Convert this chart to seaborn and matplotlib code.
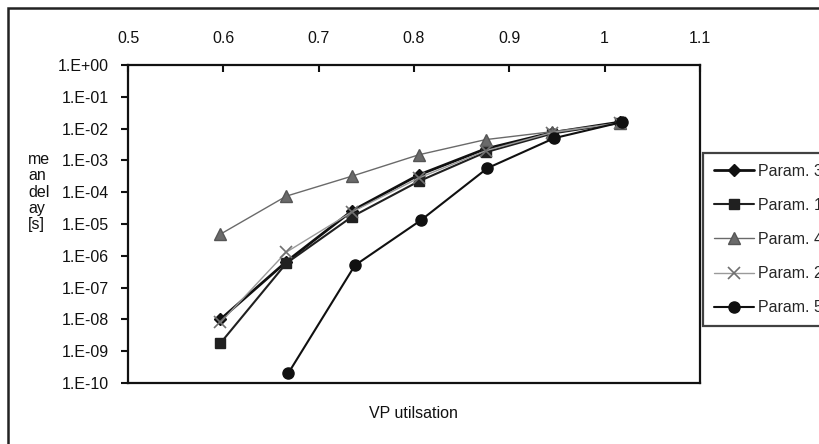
import matplotlib
matplotlib.use("Agg")
import matplotlib.pyplot as plt
import matplotlib.ticker as mticker
from matplotlib.patches import Rectangle
import numpy as np
import pandas as pd
import seaborn as sns

# ---- data ----
x_vals = [0.597, 0.666, 0.735, 0.805, 0.875, 0.945, 1.016]
param3 = [1.0e-8, 6.5e-7, 2.6e-5, 3.5e-4, 2.3e-3, 7.5e-3, 1.6e-2]
param1 = [1.8e-9, 5.8e-7, 1.7e-5, 2.2e-4, 1.8e-3, 7.0e-3, 1.5e-2]
param4 = [4.8e-6, 7.5e-5, 3.2e-4, 1.5e-3, 4.5e-3, 8.0e-3, 1.5e-2]
param2 = [8.0e-9, 1.3e-6, 2.4e-5, 2.8e-4, 2.0e-3, 7.5e-3, 1.5e-2]
x_p5 = [0.668, 0.738, 0.807, 0.877, 0.947, 1.018]
param5 = [2.0e-10, 5.0e-7, 1.3e-5, 5.7e-4, 5.0e-3, 1.6e-2]

series_names = ["Param. 3", "Param. 1", "Param. 4", "Param. 2", "Param. 5"]
y_ticks = [1e-10, 1e-9, 1e-8, 1e-7, 1e-6, 1e-5, 1e-4, 1e-3, 1e-2, 1e-1, 1e0]
x_ticks = [0.5, 0.6, 0.7, 0.8, 0.9, 1.0, 1.1]
x_tick_labels = ["0.5", "0.6", "0.7", "0.8", "0.9", "1", "1.1"]

frames = []
for name, xs, ys in [("Param. 3", x_vals, param3), ("Param. 1", x_vals, param1),
                     ("Param. 4", x_vals, param4), ("Param. 2", x_vals, param2),
                     ("Param. 5", x_p5, param5)]:
    frames.append(pd.DataFrame({"x": xs, "y": ys, "series": name}))
df = pd.concat(frames, ignore_index=True)

styles = {
    "Param. 3": dict(color="#101010", marker="D", lw=2.0, ms=6.5, mec="#101010", mew=1.0),
    "Param. 1": dict(color="#202020", marker="s", lw=1.5, ms=7.5, mec="#202020", mew=1.0),
    "Param. 4": dict(color="#6a6a6a", marker="^", lw=1.0, ms=8, mec="#555555", mew=1.0),
    "Param. 2": dict(color="#9a9a9a", marker="x", lw=1.0, ms=8, mec="#707070", mew=1.2),
    "Param. 5": dict(color="#101010", marker="o", lw=1.5, ms=8, mec="#101010", mew=1.0),
}

FS = 11.5
sns.set_style("white")
plt.rcParams["font.family"] = ["Liberation Sans", "DejaVu Sans"]

fig = plt.figure(figsize=(8.19, 4.44), dpi=100)
fig.patch.set_facecolor("white")
ax = fig.add_axes([128 / 819, 1 - 383 / 444, (700 - 128) / 819, (383 - 65) / 444])

for name in series_names:
    st = styles[name]
    sub = df[df["series"] == name]
    sns.lineplot(data=sub, x="x", y="y", ax=ax, color=st["color"], marker=st["marker"],
                 linewidth=st["lw"], markersize=st["ms"], markeredgecolor=st["mec"],
                 markeredgewidth=st["mew"], label=name, estimator=None, sort=False)

ax.set_yscale("log")
ax.set_ylim(1e-10, 1e0)
ax.set_xlim(0.5, 1.1)
ax.yaxis.set_major_locator(mticker.FixedLocator(y_ticks))
ax.yaxis.set_minor_locator(mticker.NullLocator())
ax.yaxis.set_major_formatter(mticker.FuncFormatter(
    lambda v, p: "1.E%+03d" % int(round(np.log10(v)))))
ax.set_xticks(x_ticks)
ax.set_xticklabels(x_tick_labels)
ax.xaxis.tick_top()
ax.tick_params(axis="x", direction="in", length=5, width=1.5, labelsize=FS, pad=14, colors="#111111")
ax.tick_params(axis="y", direction="out", length=5, width=1.5, labelsize=FS, pad=9, colors="#111111", left=True)
for s in ax.spines.values():
    s.set_color("#111111")
    s.set_linewidth(1.6)
    s.set_visible(True)
ax.set_xlabel("")
ax.set_ylabel("")
ax.grid(False)

fig.text(413 / 819, 1 - 413 / 444, "VP utilsation", ha="center", va="center", fontsize=FS, color="#111111")
fig.text(28 / 819, 1 - 192 / 444, "me\nan\ndel\nay\n[s]", ha="left", va="center", fontsize=FS,
         color="#111111", linespacing=1.12)

leg = ax.legend(loc="upper left", bbox_to_anchor=(703 / 819, 1 - 153 / 444),
                bbox_transform=fig.transFigure, frameon=True, fancybox=False,
                fontsize=FS, handlelength=2.5, handletextpad=0.3, labelspacing=1.2,
                borderpad=0.67, borderaxespad=0)
leg.get_frame().set_edgecolor("#111111")
leg.get_frame().set_linewidth(1.6)

# outer chart border (extends past right/bottom edge as in the reference)
fig.patches.append(Rectangle((8 / 819, -0.2), 2.0, 1.2 - 8 / 444, transform=fig.transFigure,
                             fill=False, edgecolor="#222222", linewidth=1.8, zorder=0))

fig.savefig("out.png", dpi=100, facecolor="white")
